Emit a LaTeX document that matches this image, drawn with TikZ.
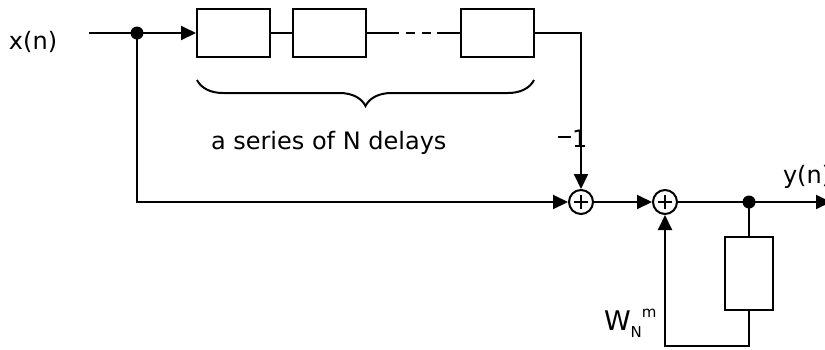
\documentclass[tikz,border=0pt]{standalone}
\usepackage{fontspec}
\setmainfont{DejaVu Sans}
\usetikzlibrary{arrows.meta,decorations.pathreplacing,calc}
\begin{document}
\begin{tikzpicture}[x=1pt,y=-1pt, line width=2pt,
 every node/.style={font=\fontsize{24}{28}\selectfont},
 delaybox/.style={draw, minimum width=73pt, minimum height=48pt, inner sep=0pt},
 fbbox/.style={draw, minimum width=48pt, minimum height=73pt, inner sep=0pt},
 adder/.style={draw, circle, minimum size=24pt, inner sep=0pt,
   path picture={\draw[line width=1.5pt] ($(path picture bounding box.center)+(-7pt,0)$) -- ++(14pt,0)
                 ($(path picture bounding box.center)+(0,-7pt)$) -- ++(0,14pt);}},
 dot/.style={circle, fill, minimum size=13pt, inner sep=0pt},
 arr/.style={-{Triangle[length=15pt,width=14pt]}},
 lbl/.style={inner sep=0pt, anchor=base west}]
\useasboundingbox (0,0) rectangle (825,349);
% nodes
\node[lbl] (xn) at (8,49) {x(n)};
\coordinate (in) at (89,33);
\node[dot] (j1) at (137,33) {};
\node[delaybox] (d1) at (233.5,33) {};
\node[delaybox] (d2) at (329.5,33) {};
\node[delaybox] (d3) at (497.5,33) {};
\coordinate (ds) at (390,33);
\coordinate (de) at (437,33);
\node[adder] (a1) at (581,202) {};
\node[adder] (a2) at (665,202) {};
\node[dot] (j2) at (749,202) {};
\coordinate (out) at (831,202);
\node[fbbox] (fb) at (749,273.5) {};
\coordinate (c1) at (749,346);
\coordinate (c2) at (665,346);
\coordinate (c3) at (581,33);
\coordinate (c4) at (137,202);
% connectors
\draw (in) -- (j1.center);
\draw[arr] (j1.center) -- (d1.west);
\draw (d1) -- (d2);
\draw (d2.east) -- (ds);
\draw[dash pattern=on 9pt off 7pt] (ds) -- (de);
\draw (de) -- (d3.west);
\draw[arr] (d3.east) -- (c3) -- (a1.north);
\draw[arr] (j1.center) -- (c4) -- (a1.west);
\draw[arr] (a1) -- (a2);
\draw (a2) -- (j2.center);
\draw[arr] (j2.center) -- (out);
\draw (j2.center) -- (fb.north);
\draw[arr] (fb.south) -- (c1) -- (c2) -- (a2.south);
% brace
\draw[decorate, decoration={brace, mirror, amplitude=26pt}] (197,80) -- (534,80);
% labels
\node[lbl] (ser) at (210,149) {a series of N delays};
\node[lbl] (m1) at (557,147) {\raisebox{9pt}{\rule{13pt}{1.8pt}}\hspace{1pt}1};
\node[lbl] (yn) at (782,183) {y(n)};
\node[lbl] (w) at (603,330) {\fontsize{27}{30}\selectfont W\raisebox{-7pt}{\fontsize{15}{15}\selectfont N}\raisebox{13pt}{\fontsize{15}{15}\selectfont m}};
\end{tikzpicture}
\end{document}
